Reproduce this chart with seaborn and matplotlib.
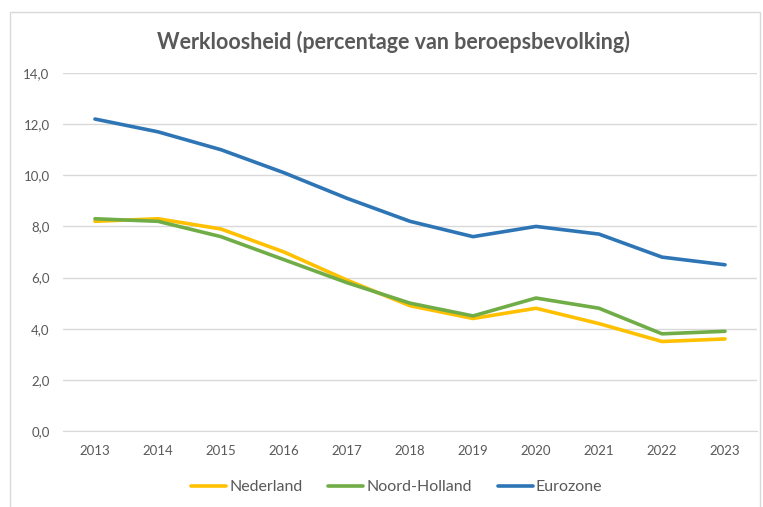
import pandas as pd
import seaborn as sns
import matplotlib.pyplot as plt
from matplotlib.patches import Rectangle

# Data
jaren = [2013, 2014, 2015, 2016, 2017, 2018, 2019, 2020, 2021, 2022, 2023]
nederland = [8.2, 8.3, 7.9, 7.0, 5.9, 4.9, 4.4, 4.8, 4.2, 3.5, 3.6]
noord_holland = [8.3, 8.2, 7.6, 6.7, 5.8, 5.0, 4.5, 5.2, 4.8, 3.8, 3.9]
eurozone = [12.2, 11.7, 11.0, 10.1, 9.1, 8.2, 7.6, 8.0, 7.7, 6.8, 6.5]
reeksen = ['Nederland', 'Noord-Holland', 'Eurozone']
kleuren = ['#FFC000', '#70AD47', '#2E75B6']

df = pd.DataFrame({
    'pos': list(range(len(jaren))) * 3,
    'waarde': nederland + noord_holland + eurozone,
    'reeks': [r for r in reeksen for _ in jaren],
})

sns.set_style('white')
plt.rcParams['font.family'] = ['Lato', 'DejaVu Sans']

fig = plt.figure(figsize=(7.63, 5.07), dpi=100)
ax = fig.add_axes([0.0832, 0.1499, 0.9083, 0.7061])

# Chart frame
fig.patches.append(Rectangle((10 / 763, -0.1), 750 / 763, 1 - 12 / 507 + 0.1,
                             transform=fig.transFigure, fill=False,
                             edgecolor='#D9D9D9', linewidth=1))

sns.lineplot(data=df, x='pos', y='waarde', hue='reeks', palette=kleuren,
             hue_order=reeksen, linewidth=2.6, ax=ax, legend=False)

ax.set_xlim(-0.5, len(jaren) - 0.5)
ax.set_ylim(0, 14)
ax.set_yticks([0, 2, 4, 6, 8, 10, 12, 14])
ax.set_yticklabels([f'{v:.1f}'.replace('.', ',') for v in range(0, 15, 2)])
ax.set_xticks(range(len(jaren)))
ax.set_xticklabels([str(j) for j in jaren])
ax.tick_params(axis='both', length=0, labelsize=9.5, labelcolor='#595959')
ax.tick_params(axis='x', pad=10)
ax.tick_params(axis='y', pad=10)
ax.grid(axis='y', color='#D9D9D9', linewidth=1)
for s in ['top', 'right', 'left']:
    ax.spines[s].set_visible(False)
ax.spines['bottom'].set_color('#D9D9D9')
ax.set_xlabel('')
ax.set_ylabel('')

fig.text(0.516, 1 - 42 / 507, 'Werkloosheid (percentage van beroepsbevolking)',
         ha='center', va='center', fontsize=15.5, fontweight='bold', color='#595959')

handles = [plt.Line2D([], [], color=c, linewidth=2.6) for c in kleuren]
fig.legend(handles, reeksen, loc='center', bbox_to_anchor=(0.52, 1 - 487 / 507),
           ncol=3, frameon=False, fontsize=11.5, labelcolor='#595959',
           handlelength=2.2, handletextpad=0.2, columnspacing=1.6)

fig.savefig('out.png', dpi=100)
